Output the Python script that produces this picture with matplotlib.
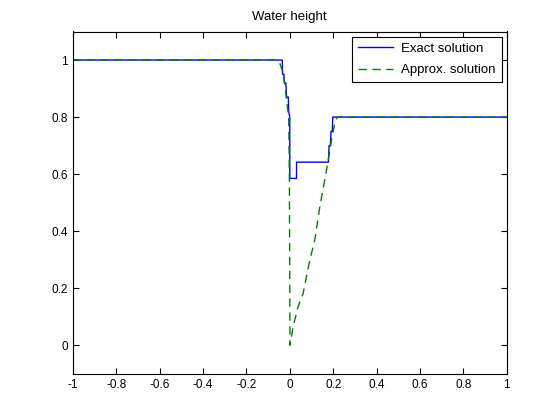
import numpy as np
import matplotlib
matplotlib.use("Agg")
import matplotlib.pyplot as plt

plt.rcParams['font.family'] = ['Liberation Sans', 'DejaVu Sans']
plt.rcParams['font.size'] = 8.5

# exact solution
x_exact = [-1, -0.035, -0.033, -0.027, -0.025, -0.018, -0.015, -0.007, -0.005, 0.0, 0.0,
           0.031, 0.031, 0.178, 0.181, 0.187, 0.190, 0.196, 0.198, 1]
h_exact = [1, 1, 0.95, 0.95, 0.92, 0.92, 0.87, 0.87, 0.82, 0.80, 0.585,
           0.585, 0.642, 0.642, 0.70, 0.70, 0.75, 0.75, 0.80, 0.80]

# approximate solution
x_appr = [-1, -0.061, -0.046, -0.035, -0.023, -0.015, -0.005, -0.002, 0.001,
          0.015, 0.038, 0.061, 0.092, 0.115, 0.138, 0.161, 0.177, 0.192, 0.207, 0.218, 1]
h_appr = [1, 1, 0.988, 0.965, 0.918, 0.86, 0.80, 0.60, 0.0,
          0.064, 0.135, 0.181, 0.298, 0.368, 0.485, 0.579, 0.649, 0.719, 0.777, 0.80, 0.80]

fig = plt.figure(figsize=(5.6, 4.2), dpi=100)
ax = fig.add_axes([0.13, 0.11, 0.775, 0.815])

ax.plot(x_exact, h_exact, color='#0000ff', lw=1, label='Exact solution')
ax.plot(x_appr, h_appr, color='#008000', lw=1, ls=(0, (6, 4)), label='Approx. solution')

ax.set_xlim(-1, 1)
ax.set_ylim(-0.1, 1.1)
ax.set_xticks(np.arange(-1, 1.01, 0.2))
ax.set_xticklabels(['-1', '-0.8', '-0.6', '-0.4', '-0.2', '0', '0.2', '0.4', '0.6', '0.8', '1'])
ax.set_yticks([0, 0.2, 0.4, 0.6, 0.8, 1])
ax.set_yticklabels(['0', '0.2', '0.4', '0.6', '0.8', '1'])
ax.tick_params(direction='in', top=True, right=True, length=4, width=0.8, labelsize=8.5)
for s in ax.spines.values():
    s.set_linewidth(0.8)
ax.set_title('Water height', fontsize=9.5, pad=8)

leg = ax.legend(loc='upper right', fancybox=False, framealpha=1, edgecolor='black',
                fontsize=9.5, handlelength=2.7, handletextpad=0.6, labelspacing=0.7,
                borderpad=0.45, borderaxespad=0.4)
leg.get_frame().set_linewidth(0.8)

fig.savefig('out.png', dpi=100)
